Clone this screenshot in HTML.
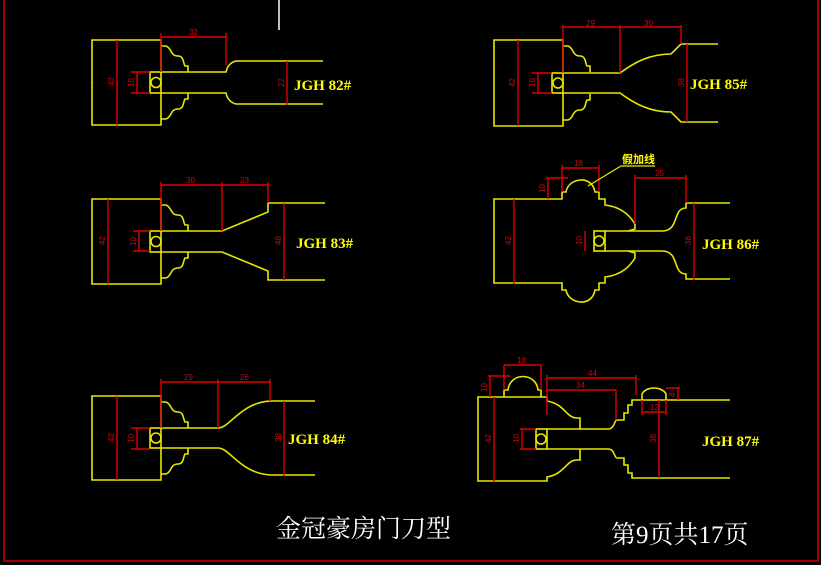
<!DOCTYPE html>
<html><head><meta charset="utf-8"><style>
html,body{margin:0;padding:0;background:#000;}
svg{display:block}
.y{fill:none;stroke:#e8e800;stroke-width:1.6}
.r{fill:none;stroke:#e00000;stroke-width:1.4}
.dt{fill:#e00000;font-family:"Liberation Sans",sans-serif;font-size:8px}
.lb{fill:#ffff00;font-family:"Liberation Serif",serif;font-size:15px;font-weight:bold}
.ti{fill:#fff;font-family:"Liberation Serif","Noto Serif CJK SC",serif;font-size:25px}
</style></head><body>
<svg width="821" height="565" viewBox="0 0 821 565" xmlns="http://www.w3.org/2000/svg">
<rect width="821" height="565" fill="#000"/>
<path d="M4,0 V561 H818 V0" fill="none" stroke="#a00000" stroke-width="2"/>
<line x1="279" y1="0" x2="279" y2="30" stroke="#fff" stroke-width="1.5"/>

<defs>
<path id="og" d="M161,46 H166 C172,48 170,56 178,56 C184,56 183,63 185,66 H188 V72"/>
</defs>

<!-- ===== 82 ===== -->
<g id="t82" class="y">
<path d="M92,83 V40 H161 V72"/>
<use href="#og"/>
<path d="M161,72 H226 Q228,63 236,61 H323"/>
</g>
<use href="#t82" transform="translate(0,165) scale(1,-1)"/>
<rect x="150" y="72" width="11" height="21" class="y"/>
<circle cx="156" cy="82.5" r="5" class="y"/>
<g class="r"><path d="M117,40 V126 M137,72 V93 M131,72 H150 M131,93 H150 M161,37 H226 M161,33 V72 M226,33 V65 M287,61 V105"/></g>
<text class="dt" x="189" y="35">32</text>
<text class="dt" transform="translate(114,86) rotate(-90)">42</text>
<text class="dt" transform="translate(134,87) rotate(-90)">10</text>
<text class="dt" transform="translate(284,87) rotate(-90)">22</text>
<text class="lb" x="294" y="90">JGH 82#</text>

<!-- ===== 83 ===== -->
<g id="t83" class="y" transform="translate(0,158)">
<path d="M92,83.5 V41 H161 V73"/>
<use href="#og" transform="translate(0,1)"/>
<path d="M161,73 H222 L268,54 V45 H325"/>
</g>
<use href="#t83" transform="translate(0,483) scale(1,-1)"/>
<rect x="150" y="231" width="11" height="21" class="y"/>
<circle cx="156" cy="241.5" r="5" class="y"/>
<g class="r"><path d="M108,199 V284 M139,231 V251 M133,231 H150 M133,251 H150 M161,185 H268 M161,182 V231 M222,182 V231 M268,182 V203 M284,203 V280"/></g>
<text class="dt" x="186" y="183">30</text>
<text class="dt" x="240" y="183">23</text>
<text class="dt" transform="translate(105,245) rotate(-90)">42</text>
<text class="dt" transform="translate(136,246) rotate(-90)">10</text>
<text class="dt" transform="translate(281,245) rotate(-90)">48</text>
<text class="lb" x="296" y="248">JGH 83#</text>

<!-- ===== 84 ===== -->
<g id="t84" class="y" transform="translate(0,355)">
<path d="M92,83 V41 H161 V73"/>
<use href="#og" transform="translate(0,1)"/>
<path d="M161,73 H218 C230,73 240,48 270,46 H315"/>
</g>
<use href="#t84" transform="translate(0,876) scale(1,-1)"/>
<rect x="150" y="428" width="11" height="20" class="y"/>
<circle cx="156" cy="438" r="5" class="y"/>
<g class="r"><path d="M117,396 V480 M137,428 V449 M131,428 H150 M131,449 H150 M161,382 H270 M161,379 V428 M218,379 V428 M270,379 V401 M284,401 V476"/></g>
<text class="dt" x="184" y="380">29</text>
<text class="dt" x="240" y="380">26</text>
<text class="dt" transform="translate(114,442) rotate(-90)">42</text>
<text class="dt" transform="translate(134,443) rotate(-90)">10</text>
<text class="dt" transform="translate(281,442) rotate(-90)">38</text>
<text class="lb" x="288" y="444">JGH 84#</text>

<!-- ===== 85 ===== -->
<g id="t85" class="y">
<path d="M494,83 V40 H563 V73"/>
<use href="#og" transform="translate(402,0)"/>
<path d="M563,73 H620 C635,62 650,54 671,54 L681,44 H718"/>
</g>
<use href="#t85" transform="translate(0,166) scale(1,-1)"/>
<rect x="552" y="73" width="11" height="20" class="y"/>
<circle cx="558" cy="83" r="5" class="y"/>
<g class="r"><path d="M518,40 V126 M538,73 V93 M532,73 H552 M532,93 H552 M563,27 H681 M563,25 V73 M620,25 V73 M681,25 V44 M687,44 V122"/></g>
<text class="dt" x="586" y="26">29</text>
<text class="dt" x="644" y="26">30</text>
<text class="dt" transform="translate(515,87) rotate(-90)">42</text>
<text class="dt" transform="translate(535,87) rotate(-90)">10</text>
<text class="dt" transform="translate(684,87) rotate(-90)">38</text>
<text class="lb" x="690" y="89">JGH 85#</text>

<!-- ===== 86 ===== -->
<g id="t86" class="y">
<path d="M494,241 V199 H562 V192 H566 C568,178 592,174 595,192 H599 V199 H605 V205 C622,207 630,216 635,224 V229 L628,231"/>
<path d="M605,231 H662 C680,231 672,208 686,208 V203 H730"/>
</g>
<use href="#t86" transform="translate(0,482) scale(1,-1)"/>
<rect x="594" y="231" width="11" height="20" class="y"/>
<circle cx="599" cy="241" r="5" class="y"/>
<g class="r"><path d="M514,199 V284 M585,231 V251 M562,168 H599 M562,165 V192 M599,165 V192 M548,178 V199 M546,178 H568 M635,178 H686 M635,175 V224 M686,175 V203 M694,203 V280"/></g>
<text class="dt" x="574" y="166">18</text>
<text class="dt" x="655" y="176">25</text>
<text class="dt" transform="translate(545,193) rotate(-90)">10</text>
<text class="dt" transform="translate(511,245) rotate(-90)">42</text>
<text class="dt" transform="translate(582,245) rotate(-90)">10</text>
<text class="dt" transform="translate(691,245) rotate(-90)">38</text>
<text class="lb" x="702" y="249">JGH 86#</text>
<path d="M588,186 L621,166 H655" stroke="#e8e800" stroke-width="1.2" fill="none"/>
<text x="622" y="163" fill="#ffff00" font-family="'Liberation Sans','Noto Sans CJK SC',sans-serif" font-size="11" font-weight="bold">假加线</text>

<!-- ===== 87 ===== -->
<g id="t87" class="y">
<path d="M478,439 V397 H547 V401 C565,404 566,418 577,418 H580 V429"/>
<path d="M547,429 H608 C615,429 614,420 617,420 H624 V413 H628 V405 H632 V400 H730"/>
</g>
<use href="#t87" transform="translate(0,878) scale(1,-1)"/>
<path class="y" d="M504,397 V390 H508 C510,372 536,372 538,390 H541 V397 M642,400 V394 C646,386 662,386 666,394 V400"/>
<rect x="536" y="429" width="11" height="20" class="y"/>
<circle cx="541" cy="439" r="5" class="y"/>
<g class="r"><path d="M504,365 V390 M541,365 V390 M504,365 H541 M490,376 V397 M488,376 H510 M547,378 H636 M547,375 V415 M636,375 V395 M547,390 H616 M616,390 V420 M642,412 H666 M642,400 V415 M666,400 V415 M678,388 V400 M666,388 H680 M494,397 V482 M522,429 V449 M520,429 H536 M520,449 H536 M659,400 V478"/></g>
<text class="dt" x="517" y="363">18</text>
<text class="dt" x="588" y="376">44</text>
<text class="dt" x="576" y="388">34</text>
<text class="dt" x="650" y="410">12</text>
<text class="dt" transform="translate(487,392) rotate(-90)">10</text>
<text class="dt" transform="translate(675,397) rotate(-90)">4</text>
<text class="dt" transform="translate(491,443) rotate(-90)">42</text>
<text class="dt" transform="translate(519,443) rotate(-90)">10</text>
<text class="dt" transform="translate(656,443) rotate(-90)">38</text>
<text class="lb" x="702" y="446">JGH 87#</text>

<text class="ti" x="276" y="537">金冠豪房门刀型</text>
<text class="ti" x="611" y="543">第9页共17页</text>
</svg>
</body></html>
